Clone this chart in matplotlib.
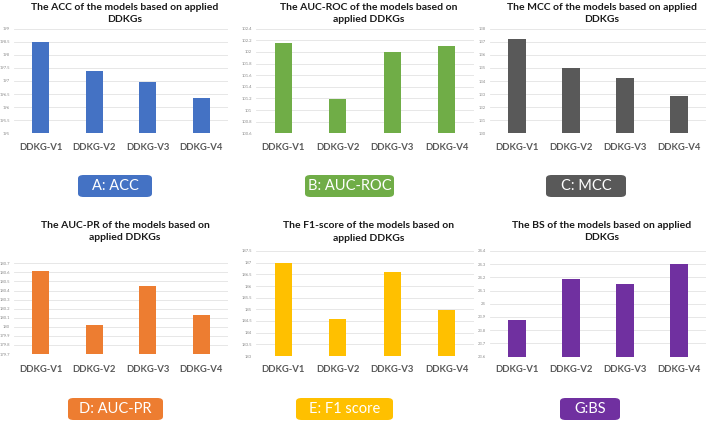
import matplotlib
matplotlib.use("Agg")
import matplotlib.pyplot as plt
from matplotlib.patches import FancyBboxPatch

plt.rcParams['font.family'] = ['Lato', 'DejaVu Sans']

categories = ["DDKG-V1", "DDKG-V2", "DDKG-V3", "DDKG-V4"]

acc = [198.5, 197.37, 196.95, 196.35]
auc_roc = [102.15, 101.19, 102.0, 102.1]
mcc = [137.19, 135.02, 134.23, 132.85]
auc_pr = [180.61, 180.02, 180.45, 180.13]
f1 = [186.97, 184.58, 186.6, 184.97]
bs = [23.875, 24.19, 24.15, 24.30]

acc_ticks = [195, 195.5, 196, 196.5, 197, 197.5, 198, 198.5, 199]
auc_roc_ticks = [100.6, 100.8, 101, 101.2, 101.4, 101.6, 101.8, 102, 102.2, 102.4]
mcc_ticks = [130, 131, 132, 133, 134, 135, 136, 137, 138]
auc_pr_ticks = [179.7, 179.8, 179.9, 180, 180.1, 180.2, 180.3, 180.4, 180.5, 180.6, 180.7]
f1_ticks = [183, 183.5, 184, 184.5, 185, 185.5, 186, 186.5, 187, 187.5]
bs_ticks = [23.6, 23.7, 23.8, 23.9, 24, 24.1, 24.2, 24.3, 24.4]

titles = [
    ["The ACC of the models based on applied", "DDKGs"],
    ["The AUC-ROC of the models based on", "applied DDKGs"],
    ["The MCC of the models based on applied", "DDKGs"],
    ["The AUC-PR of the models based on", "applied DDKGs"],
    ["The F1-score of the models based on", "applied DDKGs"],
    ["The BS of the models based on applied", "DDKGs"],
]
box_labels = ["A: ACC", "B: AUC-ROC", "C: MCC", "D: AUC-PR", "E: F1 score", "G:BS"]
colors = ["#4472C4", "#70AD47", "#595959", "#ED7D31", "#FFC000", "#7030A0"]

W, H = 708, 421
fig = plt.figure(figsize=(W / 100, H / 100), dpi=100)

def fx(px):
    return px / W

def fy(py):
    return 1 - py / H

# panel layout in pixels: (left, right, top, bottom, title_y1, title_y2, cat_y, box_x0, box_x1, box_y0, box_y1)
layout = [
    (14, 228, 28.7, 133.3, 7.5, 19.5, 147, 78, 152, 175, 197),
    (256, 474, 28.7, 133.3, 7.5, 19.5, 147, 305, 394, 175, 197),
    (490, 706, 28.7, 133.3, 7.5, 19.5, 147, 546, 626, 175, 197),
    (14, 228, 263.3, 354, 225, 237.5, 370, 68, 163, 398, 420),
    (256, 474, 251, 356, 226, 238.5, 370, 296, 393, 398, 420),
    (490, 706, 251, 356.5, 225, 237.5, 370, 560, 620, 398, 420),
]

data = [acc, auc_roc, mcc, auc_pr, f1, bs]
ticks = [acc_ticks, auc_roc_ticks, mcc_ticks, auc_pr_ticks, f1_ticks, bs_ticks]

for i in range(6):
    l, r, t, b, ty1, ty2, cy, bx0, bx1, by0, by1 = layout[i]
    ax = fig.add_axes([fx(l), fy(b), fx(r - l), (b - t) / H])
    tk = ticks[i]
    ax.bar(range(len(categories)), data[i], width=0.32, color=colors[i], bottom=0,
           zorder=3)
    ax.set_ylim(min(tk), max(tk))
    ax.set_xlim(-0.5, 3.5)
    ax.set_yticks(tk)
    ax.set_yticklabels([("%g" % v) for v in tk], fontsize=3, color="#8c8c8c")
    ax.set_xticks([])
    ax.grid(axis="y", color="#E3E3E3", linewidth=0.6, zorder=0)
    for s in ax.spines.values():
        s.set_visible(False)
    ax.tick_params(axis="y", length=0, pad=3)
    ax.set_facecolor("none")
    # category labels
    for j, c in enumerate(categories):
        xd = ax.transData.transform((j, 0))[0]
        fig.text(xd / (W), fy(cy), c, ha="center", va="center",
                 fontsize=6.8, fontweight="bold", color="#595959")
    cx = (l + r) / 2 + 4
    fig.text(fx(cx), fy(ty1), titles[i][0], ha="center", va="center",
             fontsize=7.5, fontweight="bold", color="#1a1a1a")
    fig.text(fx(cx), fy(ty2), titles[i][1], ha="center", va="center",
             fontsize=7.5, fontweight="bold", color="#1a1a1a")
    box = FancyBboxPatch((fx(bx0), fy(by1)), fx(bx1 - bx0), (by1 - by0) / H,
                         boxstyle="round,pad=0,rounding_size=0.008",
                         transform=fig.transFigure, facecolor=colors[i],
                         edgecolor="none")
    fig.patches.append(box)
    fig.text(fx((bx0 + bx1) / 2), fy((by0 + by1) / 2), box_labels[i],
             ha="center", va="center", fontsize=10.5, color="white")

fig.savefig("out.png", dpi=100)
